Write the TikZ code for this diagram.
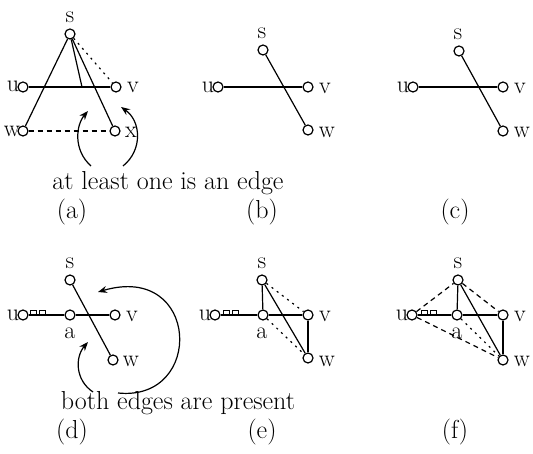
\documentclass[tikz,border=0pt]{standalone}
\usetikzlibrary{arrows.meta}
\begin{document}
\begin{tikzpicture}[x=1pt,y=-1pt,
  vtx/.style={draw,circle,minimum size=10pt,inner sep=0pt,line width=1.2pt,fill=white},
  lbl/.style={inner sep=0pt,font=\fontsize{24}{28}\selectfont},
  txt/.style={inner sep=0pt,font=\fontsize{26}{30}\selectfont},
  edge/.style={line width=1.2pt},
  dot/.style={line width=1.2pt,dash pattern=on 2pt off 4.5pt},
  dsh/.style={line width=1.2pt,dash pattern=on 5pt off 4pt},
  bump/.style={line width=1pt},
  curvarr/.style={line width=1.2pt,-{Stealth[length=9pt,width=7pt,inset=3pt]}}]
\useasboundingbox (0,0) rectangle (533,454);
% ---------- (a)
\coordinate (ap) at (82,87);
\node[vtx] (as) at (70,34) {};
\node[vtx] (au) at (23,87) {};
\node[vtx] (av) at (116,87) {};
\node[vtx] (aw) at (23,131) {};
\node[vtx] (ax) at (115,131) {};
\draw[edge] (au) -- (av);
\draw[edge] (as) -- (aw);
\draw[edge] (as) -- (ap);
\draw[edge] (as) -- (ax);
\draw[dot] (as) -- (av);
\draw[dsh] (aw) -- (ax);
\node[lbl] (als) at (70,17) {s};
\node[lbl] (alu) at (13,86) {u};
\node[lbl] (alv) at (133,87) {v};
\node[lbl] (alw) at (12,131) {w};
\node[lbl] (alx) at (131,132) {x};
\node[txt] (atext) at (168,183) {at least one is an edge};
\coordinate (aa1) at (91,166);
\coordinate (aa2) at (88,111);
\coordinate (aa3) at (123,166);
\coordinate (aa4) at (121,107);
\draw[curvarr] (aa1) .. controls (73,150) and (76,125) .. (aa2);
\draw[curvarr] (aa3) .. controls (143,150) and (141,121) .. (aa4);
\node[txt] (capa) at (72,212) {(a)};
% ---------- (b)
\node[vtx] (bs) at (263,50) {};
\node[vtx] (bu) at (218,87) {};
\node[vtx] (bv) at (308,87) {};
\node[vtx] (bw) at (308,130) {};
\draw[edge] (bu) -- (bv);
\draw[edge] (bs) -- (bw);
\node[lbl] (bls) at (262,33) {s};
\node[lbl] (blu) at (208,87) {u};
\node[lbl] (blv) at (325,88) {v};
\node[lbl] (blw) at (327,132) {w};
\node[txt] (capb) at (262,212) {(b)};
% ---------- (c)
\node[vtx] (cs) at (459,51) {};
\node[vtx] (cu) at (413,87) {};
\node[vtx] (cv) at (503,87) {};
\node[vtx] (cw) at (503,131) {};
\draw[edge] (cu) -- (cv);
\draw[edge] (cs) -- (cw);
\node[lbl] (cls) at (458,34) {s};
\node[lbl] (clu) at (403,87) {u};
\node[lbl] (clv) at (520,88) {v};
\node[lbl] (clw) at (522,132) {w};
\node[txt] (capc) at (455,212) {(c)};
% ---------- (d)
\node[vtx] (ds) at (70,280) {};
\node[vtx] (du) at (23,315) {};
\node[vtx] (da) at (70,315) {};
\node[vtx] (dv) at (115,315) {};
\node[vtx] (dw) at (113,360) {};
\draw[edge] (du) -- (da);
\draw[bump] (30,315) rectangle (36,310.5) (39,315) rectangle (45,310.5);
\draw[edge] (da) -- (dv);
\draw[edge] (ds) -- (dw);
\node[lbl] (dls) at (70,263) {s};
\node[lbl] (dlu) at (13,315) {u};
\node[lbl] (dla) at (70,333) {a};
\node[lbl] (dlv) at (132,316) {v};
\node[lbl] (dlw) at (131,361) {w};
\node[txt] (dtext) at (178,403) {both edges are present};
\coordinate (da1) at (118,393);
\coordinate (da2) at (98,292);
\coordinate (da3) at (93,392);
\coordinate (da4) at (88,342);
\draw[curvarr] (da1) .. controls (205,402) and (200,262) .. (da2);
\draw[curvarr] (da3) .. controls (75,380) and (75,357) .. (da4);
\node[txt] (capd) at (72,432) {(d)};
% ---------- (e)
\node[vtx] (es) at (262,280) {};
\node[vtx] (eu) at (215,315) {};
\node[vtx] (ea) at (263,315) {};
\node[vtx] (ev) at (308,315) {};
\node[vtx] (ew) at (308,358) {};
\draw[edge] (eu) -- (ea);
\draw[bump] (223,315) rectangle (229,310.5) (232,315) rectangle (238,310.5);
\draw[edge] (es) -- (ea);
\draw[edge] (es) -- (ew);
\draw[edge] (ea) -- (ev);
\draw[edge] (ev) -- (ew);
\draw[dot] (es) -- (ev);
\draw[dot] (ea) -- (ew);
\node[lbl] (els) at (262,263) {s};
\node[lbl] (elu) at (205,315) {u};
\node[lbl] (ela) at (262,333) {a};
\node[lbl] (elv) at (325,316) {v};
\node[lbl] (elw) at (327,361) {w};
\node[txt] (cape) at (262,432) {(e)};
% ---------- (f)
\node[vtx] (fs) at (458,280) {};
\node[vtx] (fu) at (412,315) {};
\node[vtx] (fa) at (457,315) {};
\node[vtx] (fv) at (503,315) {};
\node[vtx] (fw) at (503,360) {};
\draw[edge] (fu) -- (fa);
\draw[bump] (421,315) rectangle (427,310.5) (430,315) rectangle (436,310.5);
\draw[edge] (fs) -- (fa);
\draw[edge] (fs) -- (fw);
\draw[edge] (fa) -- (fv);
\draw[edge] (fv) -- (fw);
\draw[dsh] (fs) -- (fv);
\draw[dot] (fa) -- (fw);
\draw[dsh] (fu) -- (fs);
\draw[dsh] (fu) -- (fw);
\node[lbl] (fls) at (458,263) {s};
\node[lbl] (flu) at (402,315) {u};
\node[lbl] (fla) at (457,333) {a};
\node[lbl] (flv) at (520,316) {v};
\node[lbl] (flw) at (522,361) {w};
\node[txt] (capf) at (455,432) {(f)};
\end{tikzpicture}
\end{document}
